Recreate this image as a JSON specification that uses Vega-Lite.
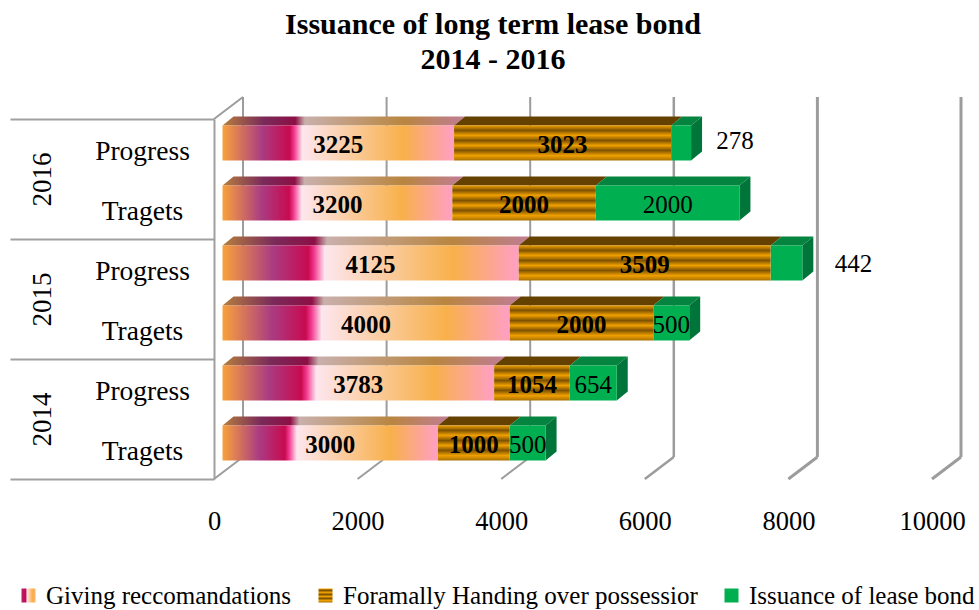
{
  "$schema": "https://vega.github.io/schema/vega-lite/v6.json",
  "width": 718,
  "height": 360,
  "autosize": {"type": "none"},
  "padding": {"left": 214, "top": 119, "right": 47, "bottom": 131},
  "background": "white",
  "title": {
    "text": ["Issuance of long term lease bond", "2014 - 2016"],
    "anchor": "middle",
    "dx": -80,
    "offset": 21,
    "fontSize": 30,
    "lineHeight": 35,
    "font": "Liberation Serif",
    "fontWeight": "bold",
    "color": "#000000"
  },
  "config": {
    "view": {"stroke": null},
    "font": "Liberation Serif"
  },
  "datasets": {
    "ticks": [{"tick": 0}, {"tick": 2000}, {"tick": 4000}, {"tick": 6000}, {"tick": 8000}, {"tick": 10000}]
  },
  "data": {
    "values": [
      {"year": "2016", "status": "Progress", "series": "Giving reccomandations", "value": 3225},
      {"year": "2016", "status": "Progress", "series": "Foramally Handing over possessior", "value": 3023},
      {"year": "2016", "status": "Progress", "series": "Issuance of lease bond", "value": 278},
      {"year": "2016", "status": "Tragets", "series": "Giving reccomandations", "value": 3200},
      {"year": "2016", "status": "Tragets", "series": "Foramally Handing over possessior", "value": 2000},
      {"year": "2016", "status": "Tragets", "series": "Issuance of lease bond", "value": 2000},
      {"year": "2015", "status": "Progress", "series": "Giving reccomandations", "value": 4125},
      {"year": "2015", "status": "Progress", "series": "Foramally Handing over possessior", "value": 3509},
      {"year": "2015", "status": "Progress", "series": "Issuance of lease bond", "value": 442},
      {"year": "2015", "status": "Tragets", "series": "Giving reccomandations", "value": 4000},
      {"year": "2015", "status": "Tragets", "series": "Foramally Handing over possessior", "value": 2000},
      {"year": "2015", "status": "Tragets", "series": "Issuance of lease bond", "value": 500},
      {"year": "2014", "status": "Progress", "series": "Giving reccomandations", "value": 3783},
      {"year": "2014", "status": "Progress", "series": "Foramally Handing over possessior", "value": 1054},
      {"year": "2014", "status": "Progress", "series": "Issuance of lease bond", "value": 654},
      {"year": "2014", "status": "Tragets", "series": "Giving reccomandations", "value": 3000},
      {"year": "2014", "status": "Tragets", "series": "Foramally Handing over possessior", "value": 1000},
      {"year": "2014", "status": "Tragets", "series": "Issuance of lease bond", "value": 500}
    ]
  },
  "transform": [
    {"calculate": "datum.year + ' ' + datum.status", "as": "row"},
    {"calculate": "indexof(['Giving reccomandations','Foramally Handing over possessior','Issuance of lease bond'], datum.series)", "as": "order"},
    {"stack": "value", "groupby": ["row"], "sort": [{"field": "order", "order": "ascending"}], "as": ["x0", "x1"]},
    {"calculate": "(datum.x0 + datum.x1) / 2", "as": "mid"},
    {"calculate": "5.5 - indexof(['2016 Progress','2016 Tragets','2015 Progress','2015 Tragets','2014 Progress','2014 Tragets'], datum.row)", "as": "pos"},
    {"calculate": "[0, 1]", "as": "edges"}
  ],
  "resolve": {
    "scale": {"y": "independent"},
    "axis": {"x": "independent", "y": "independent"}
  },
  "layer": [
    {
      "description": "Back wall gridlines",
      "data": {"name": "ticks"},
      "transform": [{"calculate": "datum.tick >= 8000 ? 3 : datum.tick == 6000 ? 2.5 : 2", "as": "w"}],
      "mark": {"type": "rule", "color": "#9c9c9c", "xOffset": 29, "x2Offset": 29, "yOffset": -22, "y2Offset": -22},
      "encoding": {
        "x": {
          "field": "tick", "type": "quantitative",
          "scale": {"domain": [0, 10000], "nice": false, "zero": false},
          "axis": {
            "orient": "bottom", "title": null, "domain": false, "ticks": false, "grid": false,
            "values": [0, 2000, 4000, 6000, 8000, 10000],
            "labelFontSize": 26.5, "labelColor": "#000000", "labelPadding": 29, "labelFlush": false,
            "labelOverlap": false, "format": "d", "labelFont": "Liberation Serif"
          }
        },
        "y": {"datum": 0, "type": "quantitative", "scale": {"domain": [0, 6], "nice": false, "zero": false}, "axis": null},
        "y2": {"datum": 6},
        "strokeWidth": {"field": "w", "type": "quantitative", "scale": null}
      }
    },
    {
      "description": "Floor edges running from the back wall to the front",
      "data": {"name": "ticks"},
      "transform": [{"calculate": "datum.tick >= 8000 ? 3 : datum.tick == 6000 ? 2.5 : 2", "as": "w"}],
      "mark": {"type": "rule", "color": "#9c9c9c", "xOffset": 29, "x2Offset": 0, "yOffset": -22, "y2Offset": 0},
      "encoding": {
        "x": {"field": "tick", "type": "quantitative", "scale": {"domain": [0, 10000], "nice": false, "zero": false}, "axis": null},
        "x2": {"field": "tick"},
        "y": {"datum": 0, "type": "quantitative", "scale": {"domain": [0, 6], "nice": false, "zero": false}, "axis": null},
        "y2": {"datum": 0},
        "strokeWidth": {"field": "w", "type": "quantitative", "scale": null}
      }
    },
    {
      "description": "Top edge of the side wall",
      "data": {"values": [{"tick": 0}]},
      "mark": {"type": "rule", "color": "#9c9c9c", "strokeWidth": 2, "xOffset": 29, "x2Offset": 0, "yOffset": -22, "y2Offset": 0},
      "encoding": {
        "x": {"field": "tick", "type": "quantitative", "scale": {"domain": [0, 10000], "nice": false, "zero": false}, "axis": null},
        "x2": {"field": "tick"},
        "y": {"datum": 6, "type": "quantitative", "scale": {"domain": [0, 6], "nice": false, "zero": false}, "axis": null},
        "y2": {"datum": 6}
      }
    },
    {
      "description": "Year band axis with its long dividers",
      "mark": {"type": "point", "opacity": 0},
      "encoding": {
        "y": {
          "field": "year", "type": "nominal",
          "scale": {"domain": ["2016", "2015", "2014"], "paddingInner": 0, "paddingOuter": 0},
          "axis": {
            "title": null, "orient": "left", "domain": false, "tickBand": "extent", "tickSize": 204,
            "tickColor": "#a0a0a0", "tickWidth": 2, "labelAngle": -90, "labelAlign": "center", "labelBaseline": "middle",
            "labelPadding": -32, "labelFontSize": 27, "labelColor": "#000000", "labelFont": "Liberation Serif"
          }
        }
      }
    },
    {
      "description": "Status axis, labels only",
      "mark": {"type": "point", "opacity": 0},
      "encoding": {
        "y": {
          "field": "row", "type": "nominal",
          "scale": {"domain": ["2016 Progress", "2016 Tragets", "2015 Progress", "2015 Tragets", "2014 Progress", "2014 Tragets"], "paddingInner": 0, "paddingOuter": 0},
          "axis": {
            "title": null, "orient": "left", "domain": true, "domainColor": "#a0a0a0", "domainWidth": 2, "ticks": false,
            "labelExpr": "split(datum.label, ' ')[1]", "labelAlign": "center", "labelBaseline": "middle", "labelOffset": 2,
            "labelPadding": 72, "labelFontSize": 27.5, "labelColor": "#000000", "labelFont": "Liberation Serif"
          }
        }
      }
    },
    {
      "description": "Top faces, recommendations",
      "transform": [
        {"filter": "datum.order == 0"},
        {"flatten": ["edges"], "as": ["edge"]},
        {"calculate": "datum.x0 + datum.edge * 153", "as": "ax"},
        {"calculate": "datum.x1 + datum.edge * 153", "as": "bx"},
        {"calculate": "datum.pos + datum.edge * 0.15", "as": "ay"}
      ],
      "mark": {
        "type": "area", "orient": "horizontal", "xOffset": 8.5, "x2Offset": 8.5, "yOffset": -23.5,
        "fill": {"gradient": "linear", "x1": 0, "x2": 1, "y1": 0, "y2": 0, "stops": [
          {"offset": 0, "color": "#B57F3E"},
          {"offset": 0.17, "color": "#7A2A5A"},
          {"offset": 0.3, "color": "#8C0F45"},
          {"offset": 0.34, "color": "#C9B0AC"},
          {"offset": 0.75, "color": "#B98540"},
          {"offset": 1, "color": "#C07D95"}
        ]}
      },
      "encoding": {
        "x": {"field": "ax", "type": "quantitative", "scale": {"domain": [0, 10000], "nice": false, "zero": false}, "axis": null, "stack": null},
        "x2": {"field": "bx"},
        "y": {"field": "ay", "type": "quantitative", "scale": {"domain": [0, 6], "nice": false, "zero": false}, "axis": null},
        "detail": {"field": "row"}
      }
    },
    {
      "description": "Top faces, possession handover",
      "transform": [
        {"filter": "datum.order == 1"},
        {"flatten": ["edges"], "as": ["edge"]},
        {"calculate": "datum.x0 + datum.edge * 153", "as": "ax"},
        {"calculate": "datum.x1 + datum.edge * 153", "as": "bx"},
        {"calculate": "datum.pos + datum.edge * 0.15", "as": "ay"}
      ],
      "mark": {"type": "area", "orient": "horizontal", "xOffset": 8.5, "x2Offset": 8.5, "yOffset": -23.5, "fill": "#654100"},
      "encoding": {
        "x": {"field": "ax", "type": "quantitative", "scale": {"domain": [0, 10000], "nice": false, "zero": false}, "axis": null, "stack": null},
        "x2": {"field": "bx"},
        "y": {"field": "ay", "type": "quantitative", "scale": {"domain": [0, 6], "nice": false, "zero": false}, "axis": null},
        "detail": {"field": "row"}
      }
    },
    {
      "description": "Top faces, lease bond",
      "transform": [
        {"filter": "datum.order == 2"},
        {"flatten": ["edges"], "as": ["edge"]},
        {"calculate": "datum.x0 + datum.edge * 153", "as": "ax"},
        {"calculate": "datum.x1 + datum.edge * 153", "as": "bx"},
        {"calculate": "datum.pos + datum.edge * 0.15", "as": "ay"}
      ],
      "mark": {"type": "area", "orient": "horizontal", "xOffset": 8.5, "x2Offset": 8.5, "yOffset": -23.5, "fill": "#05843F"},
      "encoding": {
        "x": {"field": "ax", "type": "quantitative", "scale": {"domain": [0, 10000], "nice": false, "zero": false}, "axis": null, "stack": null},
        "x2": {"field": "bx"},
        "y": {"field": "ay", "type": "quantitative", "scale": {"domain": [0, 6], "nice": false, "zero": false}, "axis": null},
        "detail": {"field": "row"}
      }
    },
    {
      "description": "End faces of the bars",
      "transform": [
        {"filter": "datum.order == 2"},
        {"flatten": ["edges"], "as": ["edge"]},
        {"calculate": "datum.x1 + datum.edge * 153", "as": "ax"},
        {"calculate": "datum.pos + datum.edge * 0.15", "as": "ay"},
        {"calculate": "datum.ay - 0.5833", "as": "by"}
      ],
      "mark": {"type": "area", "orient": "vertical", "fill": "#00753A", "xOffset": 8.5, "yOffset": -23.5, "y2Offset": -23.5},
      "encoding": {
        "x": {"field": "ax", "type": "quantitative", "scale": {"domain": [0, 10000], "nice": false, "zero": false}, "axis": null},
        "y": {"field": "ay", "type": "quantitative", "scale": {"domain": [0, 6], "nice": false, "zero": false}, "axis": null, "stack": null},
        "y2": {"field": "by"},
        "detail": {"field": "row"}
      }
    },
    {
      "description": "Front faces, lease bond; carries the legend for all three series",
      "transform": [{"filter": "datum.order == 2"}],
      "mark": {"type": "bar", "size": 35, "xOffset": 8.5, "x2Offset": 8.5, "yOffset": -6, "fill": "#00B050"},
      "encoding": {
        "x": {"field": "x0", "type": "quantitative", "scale": {"domain": [0, 10000], "nice": false, "zero": false}, "axis": null},
        "x2": {"field": "x1"},
        "y": {
          "field": "row", "type": "nominal", "axis": null,
          "scale": {"domain": ["2016 Progress", "2016 Tragets", "2015 Progress", "2015 Tragets", "2014 Progress", "2014 Tragets"], "paddingInner": 0, "paddingOuter": 0}
        },
        "opacity": {
          "field": "series", "type": "nominal",
          "scale": {
            "domain": ["Giving reccomandations", "Foramally Handing over possessior", "Issuance of lease bond"],
            "range": [1, 1, 1]
          },
          "legend": {
            "orient": "none", "legendX": -198, "legendY": 464, "direction": "horizontal", "columns": 3,
            "title": null, "symbolType": "square", "symbolSize": 196, "symbolStrokeWidth": 0,
            "labelFontSize": 25, "labelFont": "Liberation Serif", "labelColor": "#000000", "labelLimit": 400,
            "labelOffset": 5, "columnPadding": 21, "gridAlign": "none", "padding": 0,
            "encoding": {
              "symbols": {
                "fill": {
                  "value": {
                    "signal": "datum.value == 'Giving reccomandations' ? {gradient: 'linear', x1: 0, x2: 1, y1: 0, y2: 0, stops: [{offset: 0, color: '#B0206A'}, {offset: 0.3, color: '#C80A50'}, {offset: 0.4, color: '#FDE6EE'}, {offset: 0.78, color: '#F8B04A'}, {offset: 1, color: '#FFB070'}]} : datum.value == 'Foramally Handing over possessior' ? {gradient: 'linear', x1: 0, x2: 0, y1: 0, y2: 1, stops: [{offset: 0, color: '#F0A000'}, {offset: 0.14, color: '#7E5200'}, {offset: 0.28, color: '#F0A000'}, {offset: 0.43, color: '#7E5200'}, {offset: 0.57, color: '#F0A000'}, {offset: 0.71, color: '#7E5200'}, {offset: 0.86, color: '#F0A000'}, {offset: 1, color: '#A87000'}]} : '#00B050'"
                  }
                }
              }
            }
          }
        }
      }
    },
    {
      "description": "Front faces, recommendations",
      "transform": [{"filter": "datum.order == 0"}],
      "mark": {
        "type": "bar", "size": 35, "xOffset": 8.5, "x2Offset": 8.5, "yOffset": -6,
        "fill": {"gradient": "linear", "x1": 0, "x2": 1, "y1": 0, "y2": 0, "stops": [
          {"offset": 0, "color": "#F8A23C"},
          {"offset": 0.17, "color": "#AA3C82"},
          {"offset": 0.29, "color": "#C80A50"},
          {"offset": 0.31, "color": "#F23C90"},
          {"offset": 0.345, "color": "#FDE6EE"},
          {"offset": 0.78, "color": "#F8B04A"},
          {"offset": 1, "color": "#FF9FC4"}
        ]}
      },
      "encoding": {
        "x": {"field": "x0", "type": "quantitative", "scale": {"domain": [0, 10000], "nice": false, "zero": false}, "axis": null},
        "x2": {"field": "x1"},
        "y": {
          "field": "row", "type": "nominal", "axis": null,
          "scale": {"domain": ["2016 Progress", "2016 Tragets", "2015 Progress", "2015 Tragets", "2014 Progress", "2014 Tragets"], "paddingInner": 0, "paddingOuter": 0}
        }
      }
    },
    {
      "description": "Front faces with stripes, possession handover",
      "transform": [{"filter": "datum.order == 1"}],
      "mark": {
        "type": "bar", "size": 35, "xOffset": 8.5, "x2Offset": 8.5, "yOffset": -6,
        "fill": {"gradient": "linear", "x1": 0, "x2": 0, "y1": 0, "y2": 1, "stops": [
          {"offset": 0, "color": "#F0A000"},
          {"offset": 0.14, "color": "#7E5200"},
          {"offset": 0.28, "color": "#F0A000"},
          {"offset": 0.43, "color": "#7E5200"},
          {"offset": 0.57, "color": "#F0A000"},
          {"offset": 0.71, "color": "#7E5200"},
          {"offset": 0.86, "color": "#F0A000"},
          {"offset": 1, "color": "#A87000"}
        ]}
      },
      "encoding": {
        "x": {"field": "x0", "type": "quantitative", "scale": {"domain": [0, 10000], "nice": false, "zero": false}, "axis": null},
        "x2": {"field": "x1"},
        "y": {
          "field": "row", "type": "nominal", "axis": null,
          "scale": {"domain": ["2016 Progress", "2016 Tragets", "2015 Progress", "2015 Tragets", "2014 Progress", "2014 Tragets"], "paddingInner": 0, "paddingOuter": 0}
        }
      }
    },
    {
      "description": "Values of the first two series, bold",
      "transform": [{"filter": "datum.order < 2"}],
      "mark": {"type": "text", "fontSize": 25, "fontWeight": "bold", "color": "#000000", "xOffset": 8.5, "yOffset": -4, "baseline": "middle"},
      "encoding": {
        "x": {"field": "mid", "type": "quantitative", "scale": {"domain": [0, 10000], "nice": false, "zero": false}, "axis": null},
        "y": {
          "field": "row", "type": "nominal", "axis": null,
          "scale": {"domain": ["2016 Progress", "2016 Tragets", "2015 Progress", "2015 Tragets", "2014 Progress", "2014 Tragets"], "paddingInner": 0, "paddingOuter": 0}
        },
        "text": {"field": "value", "type": "quantitative", "format": "d"}
      }
    },
    {
      "description": "Values of the lease bond series that fit on the bar",
      "transform": [{"filter": "datum.order == 2 && datum.value >= 500"}],
      "mark": {"type": "text", "fontSize": 25, "color": "#000000", "xOffset": 8.5, "yOffset": -4, "baseline": "middle"},
      "encoding": {
        "x": {"field": "mid", "type": "quantitative", "scale": {"domain": [0, 10000], "nice": false, "zero": false}, "axis": null},
        "y": {
          "field": "row", "type": "nominal", "axis": null,
          "scale": {"domain": ["2016 Progress", "2016 Tragets", "2015 Progress", "2015 Tragets", "2014 Progress", "2014 Tragets"], "paddingInner": 0, "paddingOuter": 0}
        },
        "text": {"field": "value", "type": "quantitative", "format": "d"}
      }
    },
    {
      "description": "Small lease bond value in 2016, set beside its bar",
      "transform": [{"filter": "datum.order == 2 && datum.value == 278"}],
      "mark": {"type": "text", "fontSize": 25, "color": "#000000", "xOffset": 62.5, "yOffset": -8, "baseline": "middle"},
      "encoding": {
        "x": {"field": "mid", "type": "quantitative", "scale": {"domain": [0, 10000], "nice": false, "zero": false}, "axis": null},
        "y": {
          "field": "row", "type": "nominal", "axis": null,
          "scale": {"domain": ["2016 Progress", "2016 Tragets", "2015 Progress", "2015 Tragets", "2014 Progress", "2014 Tragets"], "paddingInner": 0, "paddingOuter": 0}
        },
        "text": {"field": "value", "type": "quantitative", "format": "d"}
      }
    },
    {
      "description": "Small lease bond value in 2015, set beside its bar",
      "transform": [{"filter": "datum.order == 2 && datum.value == 442"}],
      "mark": {"type": "text", "fontSize": 25, "color": "#000000", "xOffset": 75.5, "yOffset": -5, "baseline": "middle"},
      "encoding": {
        "x": {"field": "mid", "type": "quantitative", "scale": {"domain": [0, 10000], "nice": false, "zero": false}, "axis": null},
        "y": {
          "field": "row", "type": "nominal", "axis": null,
          "scale": {"domain": ["2016 Progress", "2016 Tragets", "2015 Progress", "2015 Tragets", "2014 Progress", "2014 Tragets"], "paddingInner": 0, "paddingOuter": 0}
        },
        "text": {"field": "value", "type": "quantitative", "format": "d"}
      }
    }
  ]
}
